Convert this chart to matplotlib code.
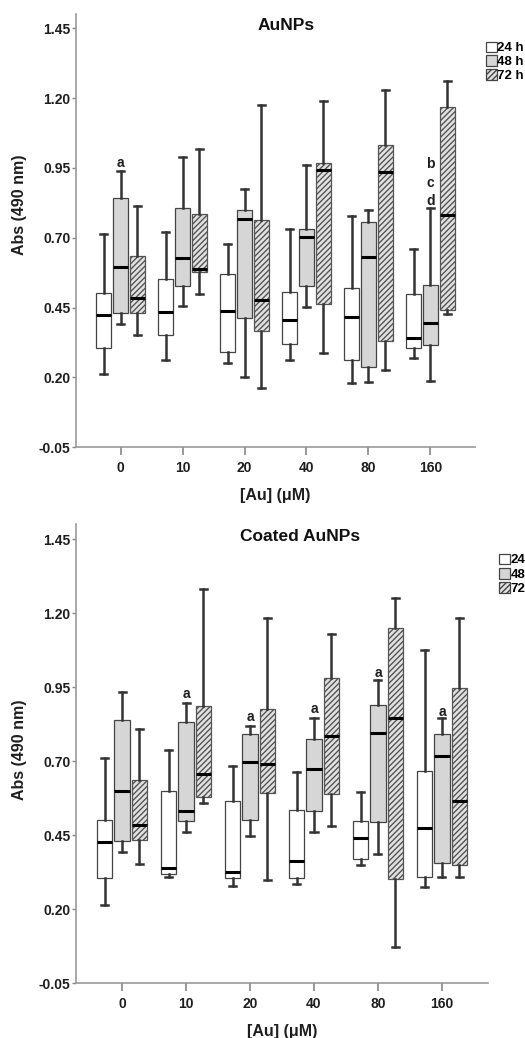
import matplotlib
matplotlib.use("Agg")
import matplotlib.pyplot as plt
from matplotlib.patches import Patch

plt.rcParams['font.family'] = ['Liberation Sans', 'DejaVu Sans']

concentrations = ["0", "10", "20", "40", "80", "160"]

# (whisker low, q1, median, q3, whisker high) per concentration
au_24 = [(0.214, 0.304, 0.424, 0.501, 0.714), (0.262, 0.352, 0.436, 0.554, 0.720),
         (0.252, 0.292, 0.438, 0.569, 0.679), (0.262, 0.321, 0.405, 0.507, 0.730),
         (0.180, 0.262, 0.417, 0.519, 0.777), (0.271, 0.305, 0.343, 0.498, 0.661)]
au_48 = [(0.390, 0.429, 0.596, 0.843, 0.938), (0.455, 0.527, 0.629, 0.805, 0.988),
         (0.200, 0.412, 0.769, 0.801, 0.875), (0.452, 0.527, 0.704, 0.730, 0.960),
         (0.182, 0.238, 0.632, 0.756, 0.799), (0.188, 0.317, 0.395, 0.531, 0.805)]
au_72 = [(0.351, 0.431, 0.486, 0.635, 0.813), (0.498, 0.578, 0.587, 0.786, 1.019),
         (0.161, 0.367, 0.477, 0.765, 1.176), (0.289, 0.462, 0.944, 0.968, 1.188),
         (0.226, 0.329, 0.935, 1.031, 1.230), (0.426, 0.442, 0.781, 1.168, 1.262)]

coat_24 = [(0.216, 0.306, 0.426, 0.503, 0.712), (0.308, 0.319, 0.340, 0.601, 0.738),
           (0.278, 0.306, 0.326, 0.567, 0.685), (0.286, 0.306, 0.362, 0.534, 0.664),
           (0.348, 0.370, 0.441, 0.497, 0.595), (0.274, 0.308, 0.475, 0.666, 1.076)]
coat_48 = [(0.393, 0.430, 0.599, 0.840, 0.935), (0.462, 0.500, 0.533, 0.832, 0.898),
           (0.447, 0.503, 0.696, 0.792, 0.820), (0.462, 0.533, 0.674, 0.777, 0.845),
           (0.387, 0.495, 0.797, 0.890, 0.973), (0.309, 0.357, 0.719, 0.792, 0.845)]
coat_72 = [(0.354, 0.433, 0.486, 0.636, 0.808), (0.559, 0.578, 0.657, 0.888, 1.281),
           (0.300, 0.593, 0.692, 0.876, 1.185), (0.483, 0.590, 0.787, 0.983, 1.129),
           (0.073, 0.302, 0.845, 1.149, 1.253), (0.309, 0.351, 0.567, 0.947, 1.185)]

# significance letters: (group index, series index, y, text)
au_letters = [(0, 1, 0.968, "a"), (5, 1, 0.964, "b"), (5, 1, 0.896, "c"), (5, 1, 0.831, "d")]
coat_letters = [(1, 1, 0.926, "a"), (2, 1, 0.851, "a"), (3, 1, 0.876, "a"),
                (4, 1, 0.999, "a"), (5, 1, 0.868, "a")]

series_face = ["white", "#d6d6d6", "#e2e2e2"]
series_hatch = [None, None, "//////"]
offsets = [-0.27, 0.0, 0.27]
box_w = 0.24
txt = "#1e1e1e"

def make_stats(rows):
    return [dict(whislo=r[0], q1=r[1], med=r[2], q3=r[3], whishi=r[4], fliers=[])
            for r in rows]

def draw_panel(ax, series, letters, title, title_x):
    for i, rows in enumerate(series):
        pos = [k + offsets[i] for k in range(len(rows))]
        bp = ax.bxp(make_stats(rows), positions=pos, widths=box_w, patch_artist=True,
                    capwidths=0.11, showfliers=False,
                    boxprops=dict(facecolor=series_face[i], edgecolor="#444444", linewidth=0.9),
                    medianprops=dict(color="black", linewidth=2.2),
                    whiskerprops=dict(color="#333333", linewidth=1.8),
                    capprops=dict(color="#333333", linewidth=1.8))
        if series_hatch[i]:
            for b in bp["boxes"]:
                b.set_hatch(series_hatch[i])
                b.set_edgecolor("#555555")
    for g, s, y, t in letters:
        ax.text(g + offsets[s], y, t, ha="center", va="center", fontsize=10,
                fontweight="bold", color=txt)
    ax.set_xlim(-0.72, 5.72)
    ax.set_ylim(-0.05, 1.50)
    ax.set_yticks([-0.05, 0.20, 0.45, 0.70, 0.95, 1.20, 1.45])
    ax.set_yticklabels(["%.2f" % v for v in ax.get_yticks()])
    ax.set_xticks(range(len(concentrations)))
    ax.set_xticklabels(concentrations)
    for side in ["top", "right"]:
        ax.spines[side].set_visible(False)
    for side in ["left", "bottom"]:
        ax.spines[side].set_color("#999999")
        ax.spines[side].set_linewidth(1.2)
    ax.tick_params(axis="y", length=3, width=1, color="#888888", pad=1,
                   labelsize=10, labelcolor=txt)
    ax.tick_params(axis="x", length=6, width=1.2, color="#888888", pad=4,
                   labelsize=10, labelcolor=txt)
    for lab in ax.get_xticklabels() + ax.get_yticklabels():
        lab.set_fontweight("bold")
    ax.set_xlabel("[Au] (μM)", fontsize=11.5, fontweight="bold", color=txt, labelpad=9)
    ax.text(title_x, 0.973, title, transform=ax.transAxes, ha="center", va="center",
            fontsize=12.5, fontweight="bold", color="#111111")

fig = plt.figure(figsize=(5.25, 10.38), dpi=100)
W, H = 525.0, 1038.0

ax1 = fig.add_axes([76 / W, 1 - 447.3 / H, 399 / W, 433 / H])
draw_panel(ax1, [au_24, au_48, au_72], au_letters, "AuNPs", 0.526)
ax1.set_ylabel("Abs (490 nm)", fontsize=11.5, fontweight="bold", color=txt)
ax1.yaxis.set_label_coords(-0.123, 0.56)

ax2 = fig.add_axes([76 / W, 1 - 983.3 / H, 412 / W, 458.8 / H])
draw_panel(ax2, [coat_24, coat_48, coat_72], coat_letters, "Coated AuNPs", 0.544)
ax2.set_ylabel("Abs (490 nm)", fontsize=11.5, fontweight="bold", color=txt)
ax2.yaxis.set_label_coords(-0.119, 0.51)

def legend_handles():
    return [Patch(facecolor=series_face[i], edgecolor="#444444", hatch=series_hatch[i],
                  linewidth=0.9) for i in range(3)]

fig.legend(legend_handles(), ["24 h", "48 h", "72 h"], loc="upper left",
           bbox_to_anchor=(479 / W, 1 - 35 / H), frameon=False, borderpad=0,
           handlelength=0.85, handleheight=0.85, handletextpad=0.05, labelspacing=0.08,
           prop={"weight": "bold", "size": 9.5})
fig.legend(legend_handles(), ["24", "48", "72"], loc="upper left",
           bbox_to_anchor=(492 / W, 1 - 547 / H), frameon=False, borderpad=0,
           handlelength=0.85, handleheight=0.85, handletextpad=0.05, labelspacing=0.12,
           prop={"weight": "bold", "size": 9.5})

fig.savefig("out.png", dpi=100)
